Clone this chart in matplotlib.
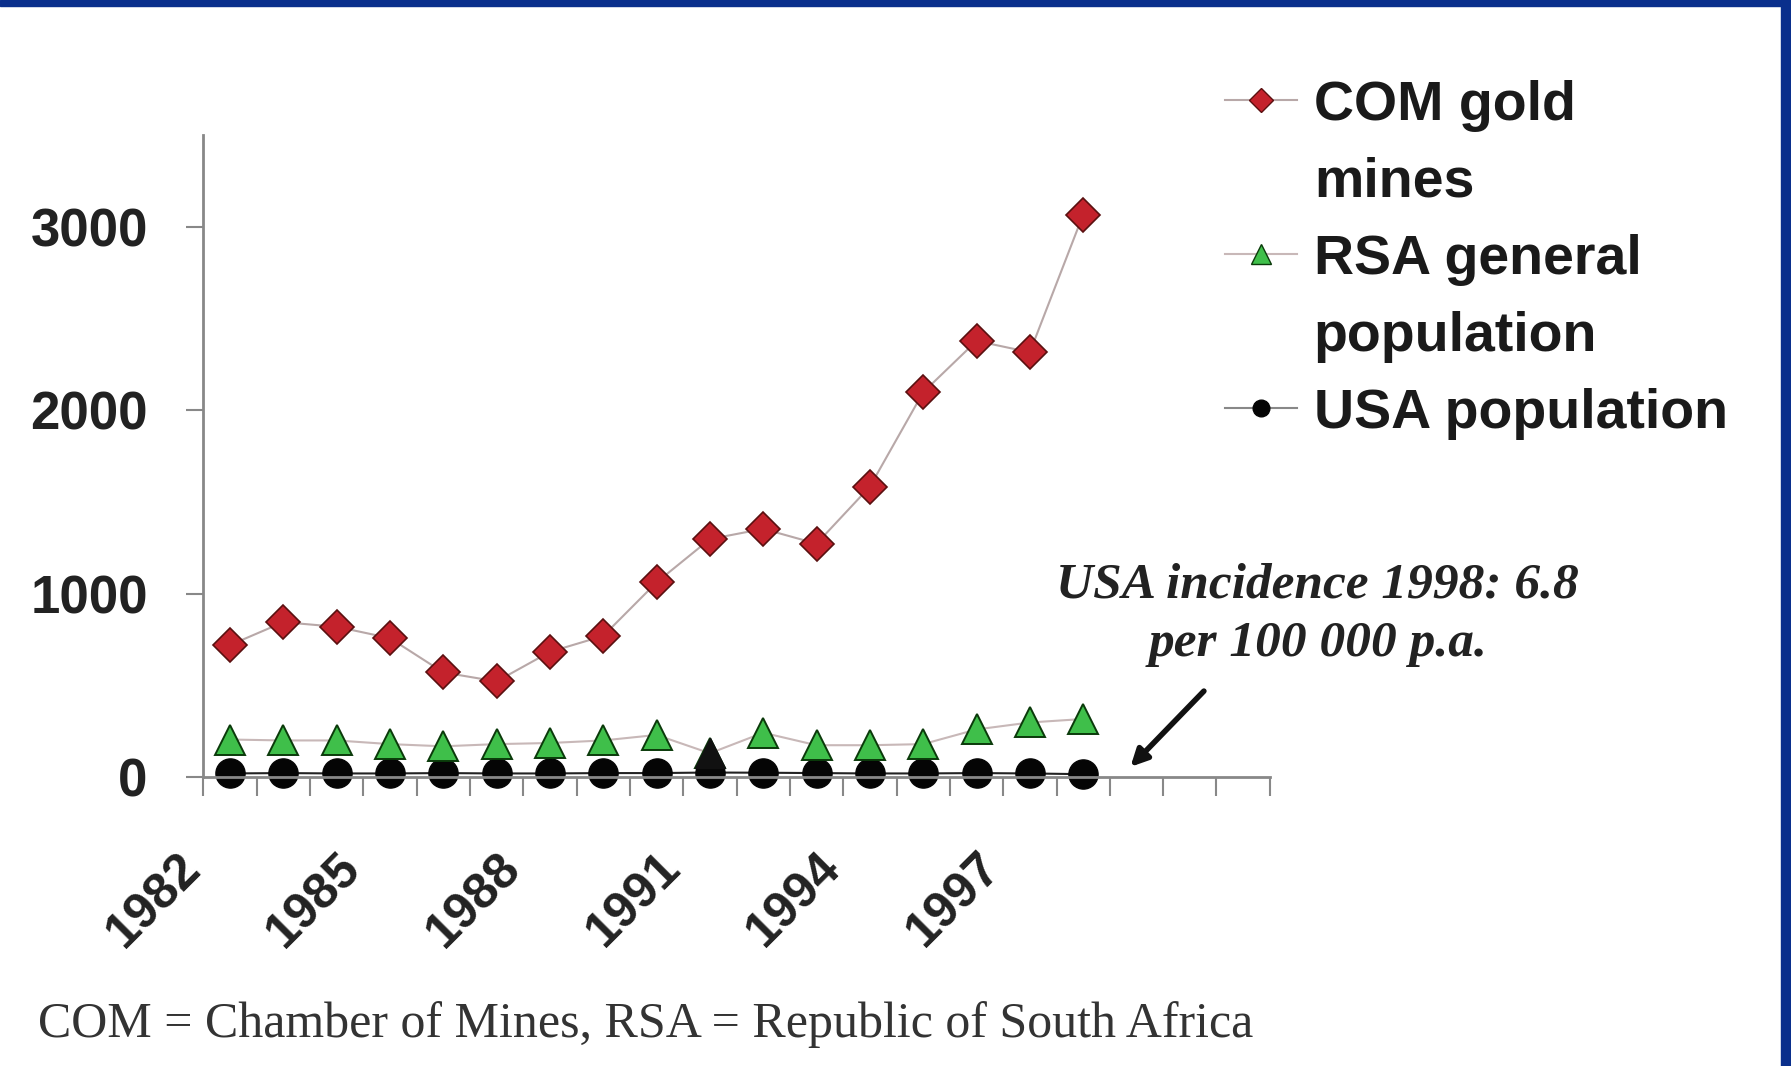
import numpy as np
import matplotlib.pyplot as plt
import matplotlib.transforms as mtransforms
from matplotlib.lines import Line2D
from matplotlib.patches import Rectangle

# data to plot
years = list(range(1982, 2002))
com_gold = [720, 845, 820, 758, 571, 522, 683, 770, 1062, 1298,
            1354, 1273, 1584, 2099, 2379, 2317, 3068]
rsa_general = [205, 200, 200, 180, 168, 180, 186, 200, 230, 130,
               242, 174, 174, 180, 260, 298, 317]
usa_pop = [20, 22, 20, 20, 22, 20, 20, 22, 22, 25,
           24, 22, 20, 20, 22, 20, 16]
tick_years = [1982, 1985, 1988, 1991, 1994, 1997]

fig = plt.figure(figsize=(17.91, 10.66), dpi=100)
ax = fig.add_axes([0.1135, 0.271, 0.5955, 0.602])

idx = np.arange(len(com_gold))

ax.plot(idx, com_gold, color='#b8a8a8', lw=1.5, marker='D', markersize=17,
        markerfacecolor='#c4222c', markeredgecolor='#5a1010', markeredgewidth=1.2,
        clip_on=False, zorder=3)
ax.plot(idx, rsa_general, color='#c8b8b8', lw=1.5, marker='^', markersize=21,
        markerfacecolor='#3fbf4a', markeredgecolor='#0a3a0a', markeredgewidth=1.4,
        clip_on=False, zorder=3)
# 1991 point is drawn dark in the original
ax.plot(idx[9], rsa_general[9], marker='^', markersize=21, color='#111111',
        clip_on=False, zorder=3)
ax.plot(idx, usa_pop, color='#222222', lw=1.5, marker='o', markersize=21,
        markerfacecolor='#050505', markeredgecolor='#050505',
        clip_on=False, zorder=2.5)

ax.set_xlim(-0.5, len(years) - 0.5)
ax.set_ylim(0, 3500)

for s in ['top', 'right']:
    ax.spines[s].set_visible(False)
ax.spines['left'].set_color('#888888')
ax.spines['bottom'].set_color('#888888')
ax.spines['left'].set_linewidth(2)
ax.spines['bottom'].set_linewidth(2)

ax.set_yticks([0, 1000, 2000, 3000])
ax.set_yticklabels(['0', '1000', '2000', '3000'], fontsize=38,
                   fontweight='bold', family='Liberation Sans', color='#222222')
ax.tick_params(axis='y', length=12, width=1.5, color='#888888', pad=28)

tick_pos = [years.index(y) for y in tick_years]
ax.set_xticks(tick_pos)
ax.set_xticklabels([str(y) for y in tick_years], rotation=45, ha='right',
                   va='top', rotation_mode='anchor', fontsize=36,
                   fontweight='bold', family='Liberation Sans', color='#222222')
ax.tick_params(axis='x', which='major', length=0, pad=24)
ax.set_xticks(np.arange(-0.5, len(years)), minor=True)
ax.tick_params(axis='x', which='minor', length=14, width=1.5, color='#888888')
offset = mtransforms.ScaledTranslation(-0.53, -0.34, fig.dpi_scale_trans)
for lbl in ax.get_xticklabels():
    lbl.set_transform(lbl.get_transform() + offset)

# annotation
ax.annotate('', xy=(16.85, 45), xytext=(18.3, 480),
            arrowprops=dict(arrowstyle='-|>,head_length=1.0,head_width=0.5',
                            color='#111111', lw=4), annotation_clip=False)
ax.text(20.4, 885, 'USA incidence 1998: 6.8\nper 100 000 p.a.', ha='center',
        va='center', fontsize=37, fontweight='bold', fontstyle='italic',
        family='Liberation Serif', color='#222222', linespacing=1.35,
        clip_on=False)

# legend (second lines as blank entries so markers sit on first line)
blank = Line2D([], [], linestyle='none')
handles = [
    Line2D([], [], color='#b8a8a8', lw=1.5, marker='D', markersize=12,
           markerfacecolor='#c4222c', markeredgecolor='#5a1010'),
    blank,
    Line2D([], [], color='#c8b8b8', lw=1.5, marker='^', markersize=14,
           markerfacecolor='#3fbf4a', markeredgecolor='#0a3a0a'),
    blank,
    Line2D([], [], color='#888888', lw=1.5, marker='o', markersize=12,
           markerfacecolor='#050505', markeredgecolor='#050505'),
]
labels = ['COM gold', 'mines', 'RSA general', 'population', 'USA population']
leg = fig.legend(handles, labels, loc='upper left',
                 bbox_to_anchor=(0.656, 0.972), frameon=False,
                 prop={'family': 'Liberation Sans', 'weight': 'bold', 'size': 40},
                 handlelength=1.3, handletextpad=0.3, labelspacing=0.45)
for t in leg.get_texts():
    t.set_color('#1a1a1a')

fig.text(0.021, 0.039, 'COM = Chamber of Mines, RSA = Republic of South Africa',
         fontsize=36, family='Liberation Serif', color='#333333', va='center')

# blue frame
fig.patches.append(Rectangle((0, 0.994), 1, 0.006, transform=fig.transFigure,
                             color='#0a2f8c', zorder=10))
fig.patches.append(Rectangle((0.9945, 0), 0.0055, 1, transform=fig.transFigure,
                             color='#0a2f8c', zorder=10))

fig.savefig('out.png', dpi=100)
